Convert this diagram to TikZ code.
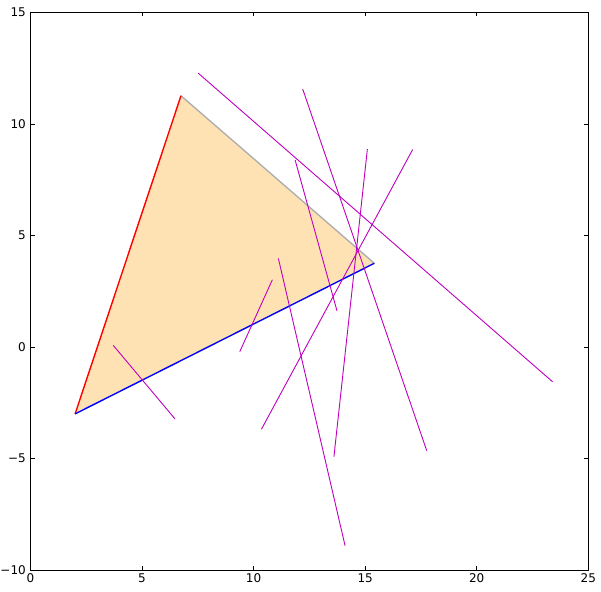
\documentclass[tikz,border=0pt]{standalone}
\usepackage{fontspec}
\setmainfont{DejaVu Sans}
\definecolor{mplfill}{RGB}{255,226,179}
\definecolor{mpledge}{RGB}{172,172,172}
\definecolor{mplm}{rgb}{0.75,0,0.75}
\definecolor{mplr}{rgb}{1,0,0}
\definecolor{mplb}{rgb}{0,0,1}
\tikzset{
  seg/.style={mplm, line width=0.9pt},
  edgeline/.style={line width=1.4pt},
  ticklab/.style={font=\fontsize{12}{14}\selectfont, inner sep=0pt},
  tickmark/.style={line width=0.6pt},
}
\begin{document}
\begin{tikzpicture}[x=1pt,y=1pt]
\useasboundingbox (0,0) rectangle (601,591);
\fill[white] (0,0) rectangle (601,591);
\begin{scope}[shift={(30.5,244.05)}, x=22.31pt, y=22.31pt]
  \begin{scope}
    \clip (0,-10) rectangle (25,15);
    % triangle
    \coordinate (A) at (2,-3);
    \coordinate (B) at (6.745,11.26);
    \coordinate (C) at (15.41,3.75);
    \fill[mplfill] (A) -- (B) -- (C) -- cycle;
    \draw[mpledge, line width=1.3pt] (B) -- (C);
    \draw[mplr, edgeline] (A) -- (B);
    \draw[mplb, edgeline] (A) -- (C);
    % segments
    \coordinate (p1) at (7.52,12.27);  \coordinate (q1) at (23.40,-1.56);
    \coordinate (p2) at (12.20,11.56); \coordinate (q2) at (17.76,-4.65);
    \coordinate (p3) at (11.86,8.38);  \coordinate (q3) at (13.74,1.61);
    \coordinate (p4) at (15.10,8.87);  \coordinate (q4) at (13.60,-4.92);
    \coordinate (p5) at (17.13,8.85);  \coordinate (q5) at (10.35,-3.69);
    \coordinate (p6) at (11.11,3.97);  \coordinate (q6) at (14.10,-8.91);
    \coordinate (p7) at (10.84,3.01);  \coordinate (q7) at (9.38,-0.21);
    \coordinate (p8) at (3.71,0.07);   \coordinate (q8) at (6.48,-3.23);
    \foreach \i in {1,...,8} { \draw[seg] (p\i) -- (q\i); }
  \end{scope}
  % frame
  \draw[black, line width=1pt] (0,-10) rectangle (25,15);
  % ticks
  \foreach \xv in {5,10,15,20} {
    \draw[tickmark] (\xv,-10) -- ++(0,4pt);
    \draw[tickmark] (\xv,15) -- ++(0,-4pt);
  }
  \foreach \yv in {-5,0,5,10} {
    \draw[tickmark] (0,\yv) -- ++(4pt,0);
    \draw[tickmark] (25,\yv) -- ++(-4pt,0);
  }
  \foreach \xv/\nm in {0/x0,5/x5,10/x10,15/x15,20/x20,25/x25} {
    \node[ticklab, anchor=north] (\nm) at ([yshift=-3.5pt]\xv,-10) {\xv};
  }
  \foreach \yv/\lab/\nm in {-10/{\char"2212 10}/ym10,-5/{\char"2212 5}/ym5,0/0/y0,5/5/y5,10/10/y10,15/15/y15} {
    \node[ticklab, anchor=east] (\nm) at ([xshift=-4.5pt]0,\yv) {\lab};
  }
\end{scope}
\end{tikzpicture}
\end{document}
